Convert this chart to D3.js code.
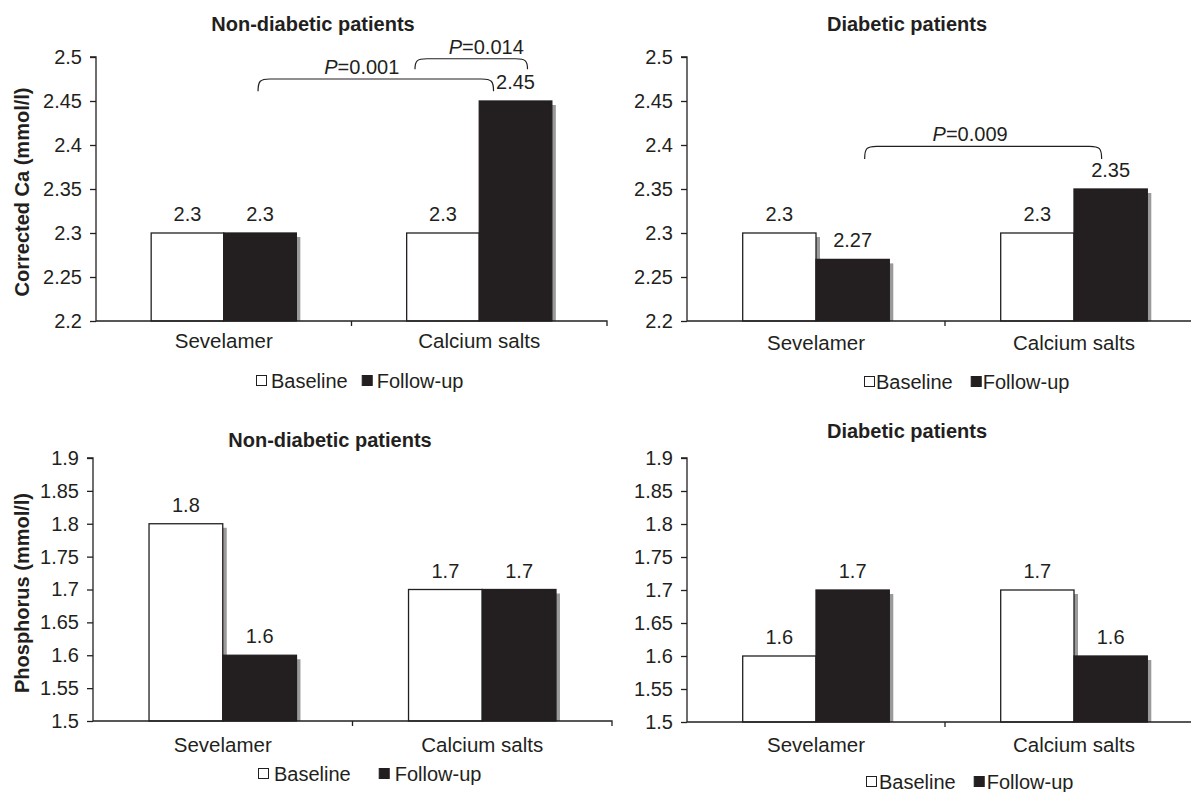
<!DOCTYPE html>
<html><head><meta charset="utf-8">
<script src="https://cdn.jsdelivr.net/npm/d3@7"></script>
<style>
html,body{margin:0;padding:0;background:#fff;}
text{font-family:"Liberation Sans",Arial,sans-serif;fill:#231f20;}
</style></head>
<body>
<svg id="chart" width="1191" height="792"></svg>
<script>
// ---------- data ----------
const categories = ["Sevelamer", "Calcium salts"];
const seriesNames = ["Baseline", "Follow-up"];

const caNonDiabBaseline = [2.3, 2.3];
const caNonDiabFollowUp = [2.3, 2.45];
const caDiabBaseline = [2.3, 2.3];
const caDiabFollowUp = [2.27, 2.35];

const phNonDiabBaseline = [1.8, 1.7];
const phNonDiabFollowUp = [1.6, 1.7];
const phDiabBaseline = [1.6, 1.7];
const phDiabFollowUp = [1.7, 1.6];

const caTicks = [2.2, 2.25, 2.3, 2.35, 2.4, 2.45, 2.5];
const caTickLabels = ["2.2", "2.25", "2.3", "2.35", "2.4", "2.45", "2.5"];
const phTicks = [1.5, 1.55, 1.6, 1.65, 1.7, 1.75, 1.8, 1.85, 1.9];
const phTickLabels = ["1.5", "1.55", "1.6", "1.65", "1.7", "1.75", "1.8", "1.85", "1.9"];

const panelTitles = ["Non-diabetic patients", "Diabetic patients", "Non-diabetic patients", "Diabetic patients"];
const yTitles = ["Corrected Ca (mmol/l)", "Phosphorus (mmol/l)"];

// significance brackets: [category, series] ends, bracket level (data units), p-value text
const caNonDiabBrackets = [
  {from: [0, 1], to: [1, 1], top: 2.475, foot: 2.461, p: "0.001"},
  {from: [1, 0], to: [1, 1], top: 2.498, foot: 2.486, p: "0.014"}
];
const caDiabBrackets = [
  {from: [0, 1], to: [1, 1], top: 2.3985, foot: 2.384, p: "0.009"}
];

// ---------- layout (pixels) ----------
const svg = d3.select("#chart");
const INK = "#231f20";
const FS = 20;

const panels = [
  {x0: 96, x1: 607, yT: 57, yB: 321, domain: [2.2, 2.5], ticks: caTicks, tickLabels: caTickLabels,
   base: caNonDiabBaseline, fu: caNonDiabFollowUp, title: panelTitles[0], titleX: 313, titleY: 24,
   yTitle: yTitles[0], yTitleX: 22, yTitleY: 192, catY: 341,
   legend: {x: 256, y: 381, gap1: 5, gap2: 14}, brackets: caNonDiabBrackets,
   bracketAdj: [[-2, -22, -14], [-28, 12, 15]]},
  {x0: 687, x1: 1203, yT: 57, yB: 321, domain: [2.2, 2.5], ticks: caTicks, tickLabels: caTickLabels,
   base: caDiabBaseline, fu: caDiabFollowUp, title: panelTitles[1], titleX: 907, titleY: 24,
   yTitle: null, catY: 343,
   legend: {x: 864, y: 382, gap1: 2, gap2: 18}, brackets: caDiabBrackets,
   bracketAdj: [[12, -9, -13]]},
  {x0: 93, x1: 612, yT: 458, yB: 721, domain: [1.5, 1.9], ticks: phTicks, tickLabels: phTickLabels,
   base: phNonDiabBaseline, fu: phNonDiabFollowUp, title: panelTitles[2], titleX: 330, titleY: 440,
   yTitle: yTitles[1], yTitleX: 22, yTitleY: 593, catY: 745,
   legend: {x: 258, y: 774, gap1: 6, gap2: 28}, brackets: [], bracketAdj: []},
  {x0: 687, x1: 1203, yT: 458, yB: 722, domain: [1.5, 1.9], ticks: phTicks, tickLabels: phTickLabels,
   base: phDiabBaseline, fu: phDiabFollowUp, title: panelTitles[3], titleX: 907, titleY: 431,
   yTitle: null, catY: 745,
   legend: {x: 866, y: 782, gap1: 3, gap2: 18}, brackets: [], bracketAdj: []}
];

panels.forEach(drawPanel);

function drawPanel(p) {
  const g = svg.append("g");
  const y = d3.scaleLinear().domain(p.domain).range([p.yB, p.yT]);
  const x = d3.scaleBand().domain(categories).range([p.x0, p.x1]).padding(0);
  const xs = d3.scaleBand().domain(seriesNames).range([0, x.bandwidth()])
    .paddingInner(0).paddingOuter(0.76);

  const rows = [];
  categories.forEach((c, i) => {
    rows.push({cat: c, s: seriesNames[0], v: p.base[i]});
    rows.push({cat: c, s: seriesNames[1], v: p.fu[i]});
  });

  // shadows
  g.append("g").selectAll("rect").data(rows).join("rect")
    .attr("x", d => x(d.cat) + xs(d.s) + 4)
    .attr("y", d => y(d.v) + 4)
    .attr("width", xs.bandwidth())
    .attr("height", d => Math.max(0, p.yB - y(d.v) - 4))
    .attr("fill", "#9a9a9a");

  // bars
  g.append("g").selectAll("rect").data(rows).join("rect")
    .attr("x", d => x(d.cat) + xs(d.s))
    .attr("y", d => y(d.v))
    .attr("width", xs.bandwidth())
    .attr("height", d => p.yB - y(d.v))
    .attr("fill", d => d.s === seriesNames[0] ? "#ffffff" : INK)
    .attr("stroke", INK)
    .attr("stroke-width", 1.3);

  // value labels
  g.append("g").selectAll("text").data(rows).join("text")
    .attr("x", d => x(d.cat) + xs(d.s) + xs.bandwidth() / 2)
    .attr("y", d => y(d.v) - 12)
    .attr("text-anchor", "middle")
    .attr("font-size", FS)
    .text(d => String(d.v));

  // y axis
  const yAxis = d3.axisLeft(y).tickValues(p.ticks)
    .tickFormat((d, i) => p.tickLabels[i]).tickSize(6).tickPadding(8);
  const ya = g.append("g").attr("transform", `translate(${p.x0},0)`).call(yAxis);
  ya.select(".domain").attr("stroke", INK).attr("stroke-width", 1.3).attr("d", `M-6,${p.yT}H0V${p.yB}`);
  ya.selectAll(".tick line").attr("stroke", INK).attr("stroke-width", 1.3);
  ya.selectAll(".tick text").attr("font-size", FS).attr("font-family", "Liberation Sans, Arial, sans-serif").attr("fill", INK);

  // x axis
  const xAxis = d3.axisBottom(x).tickSize(0).tickPadding(0);
  const xa = g.append("g").attr("transform", `translate(0,${p.yB})`).call(xAxis);
  xa.select(".domain").attr("stroke", INK).attr("stroke-width", 1.3).attr("d", `M${p.x0},0H${p.x1}V5`);
  xa.selectAll(".tick text").attr("font-size", FS + 0.5).attr("font-family", "Liberation Sans, Arial, sans-serif")
    .attr("fill", INK).attr("y", p.catY - p.yB).attr("dy", "0.35em");
  // category boundary tick (between categories)
  xa.append("line").attr("x1", x(categories[1])).attr("x2", x(categories[1]))
    .attr("y1", 0).attr("y2", 5).attr("stroke", INK).attr("stroke-width", 1.3);

  // title
  g.append("text").attr("x", p.titleX).attr("y", p.titleY).attr("dy", "0.35em")
    .attr("text-anchor", "middle").attr("font-size", FS).attr("font-weight", "bold").text(p.title);

  if (p.yTitle) {
    g.append("text").attr("transform", `translate(${p.yTitleX},${p.yTitleY}) rotate(-90)`)
      .attr("dy", "0.35em").attr("text-anchor", "middle")
      .attr("font-size", FS).attr("font-weight", "bold").text(p.yTitle);
  }

  // legend
  const L = p.legend;
  const lg = g.append("g").attr("transform", `translate(${L.x},${L.y})`);
  let cx = 0;
  seriesNames.forEach((s, i) => {
    lg.append("rect").attr("x", cx + 0.5).attr("y", -5.5).attr("width", 10).attr("height", 10)
      .attr("fill", i === 0 ? "#fff" : INK).attr("stroke", INK).attr("stroke-width", 1);
    cx += 10 + L.gap1;
    const t = lg.append("text").attr("x", cx).attr("y", 0).attr("dy", "0.35em")
      .attr("font-size", FS).text(s);
    cx += t.node().getComputedTextLength() + L.gap2;
  });

  // brackets
  p.brackets.forEach((b, i) => {
    const adj = p.bracketAdj[i] || [0, 0, 0];
    const bx = (ci, si) => x(categories[ci]) + xs(seriesNames[si]) + xs.bandwidth() / 2;
    const xa1 = bx(b.from[0], b.from[1]) + adj[0];
    const xa2 = bx(b.to[0], b.to[1]) + adj[1];
    const yt = y(b.top), yf = y(b.foot);
    const r = 12;
    g.append("path")
      .attr("d", `M${xa1},${yf} C${xa1},${yt + 2} ${xa1 + 2},${yt} ${xa1 + r},${yt} L${xa2 - r},${yt} C${xa2 - 2},${yt} ${xa2},${yt + 2} ${xa2},${yf}`)
      .attr("fill", "none").attr("stroke", INK).attr("stroke-width", 1.2);
    const tx = g.append("text").attr("x", (xa1 + xa2) / 2 + adj[2]).attr("y", yt - 12).attr("dy", "0.35em")
      .attr("text-anchor", "middle").attr("font-size", FS);
    tx.append("tspan").attr("font-style", "italic").text("P");
    tx.append("tspan").text("=" + b.p);
  });
}
</script>
</body></html>
